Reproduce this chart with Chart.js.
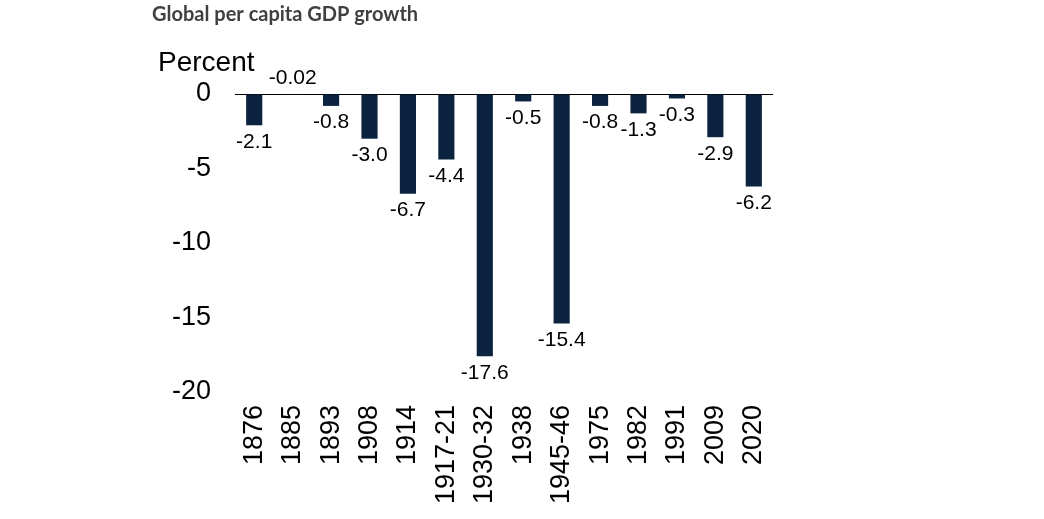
<!DOCTYPE html>
<html>
<head>
<meta charset="utf-8">
<script src="https://cdn.jsdelivr.net/npm/chart.js@4"></script>
<style>
  html, body { margin: 0; padding: 0; background: #ffffff; }
  #wrap { width: 1044px; height: 519px; position: relative; }
</style>
</head>
<body>
<div id="wrap"><canvas id="gdpChart" width="1044" height="519"></canvas></div>
<script>
// Роки / періоди спаду
const periods = ["1876", "1885", "1893", "1908", "1914", "1917-21", "1930-32",
    "1938", "1945-46", "1975", "1982", "1991", "2009", "2020"];
// Зростання ВВП на душу населення, %
const growth = [-2.1, -0.02, -0.8, -3.0, -6.7, -4.4, -17.6,
    -0.5, -15.4, -0.8, -1.3, -0.3, -2.9, -6.2];
const yTicks = [0, -5, -10, -15, -20];

const barColor = "#0c2340";
const arial = "'Liberation Sans', Arial, sans-serif";

/**
 * Підписи значень під стовпчиками та заголовки
 */
const labelsPlugin = {
    id: "valueLabels",
    afterDatasetsDraw(chart) {
        const ctx = chart.ctx;
        const meta = chart.getDatasetMeta(0);
        ctx.save();
        ctx.fillStyle = "#000000";
        ctx.font = "21px " + arial;
        ctx.textAlign = "center";
        meta.data.forEach((bar, i) => {
            const v = growth[i];
            const txt = Math.abs(v) < 0.1 ? v.toFixed(2) : v.toFixed(1);
            if (Math.abs(v) < 0.1) {
                ctx.textBaseline = "bottom";
                ctx.fillText(txt, bar.x, bar.base - 6);
            } else {
                ctx.textBaseline = "top";
                ctx.fillText(txt, bar.x, bar.y + 6);
            }
        });

        ctx.textAlign = "left";
        ctx.textBaseline = "alphabetic";
        ctx.fillStyle = "#404040";
        ctx.font = "bold 20px Lato, 'Open Sans', sans-serif";
        ctx.fillText("Global per capita GDP growth", 152, 21);

        ctx.fillStyle = "#000000";
        ctx.font = "28px " + arial;
        ctx.fillText("Percent", 158, 71);
        ctx.restore();
    },
};

const ctx = document.getElementById("gdpChart").getContext("2d");
new Chart(ctx, {
    type: "bar",
    data: {
        labels: periods,
        datasets: [
            {
                data: growth,
                backgroundColor: barColor,
                borderWidth: 0,
                categoryPercentage: 1.0,
                barPercentage: 0.42,
            },
        ],
    },
    options: {
        responsive: false,
        animation: false,
        layout: {
            padding: { top: 94, right: 271, bottom: 0, left: 0 },
        },
        plugins: {
            legend: { display: false },
            tooltip: { enabled: false },
        },
        scales: {
            x: {
                position: "bottom",
                grid: { display: false, drawTicks: false },
                border: { display: false },
                ticks: {
                    color: "#000000",
                    font: { family: arial, size: 27 },
                    minRotation: 90,
                    maxRotation: 90,
                    autoSkip: false,
                    padding: 13,
                },
                afterFit: (scale) => { scale.height = 127; },
            },
            y: {
                min: -20,
                max: 0,
                afterBuildTicks: (scale) => {
                    scale.ticks = yTicks.map((v) => ({ value: v }));
                },
                grid: {
                    drawTicks: false,
                    color: (c) => (c.tick && c.tick.value === 0 ? "#000000" : "rgba(0,0,0,0)"),
                    lineWidth: 1,
                },
                border: { display: false },
                ticks: {
                    color: "#000000",
                    font: { family: arial, size: 27 },
                    padding: 24,
                },
                afterFit: (scale) => { scale.width = 235; },
            },
        },
    },
    plugins: [labelsPlugin],
});
</script>
</body>
</html>
